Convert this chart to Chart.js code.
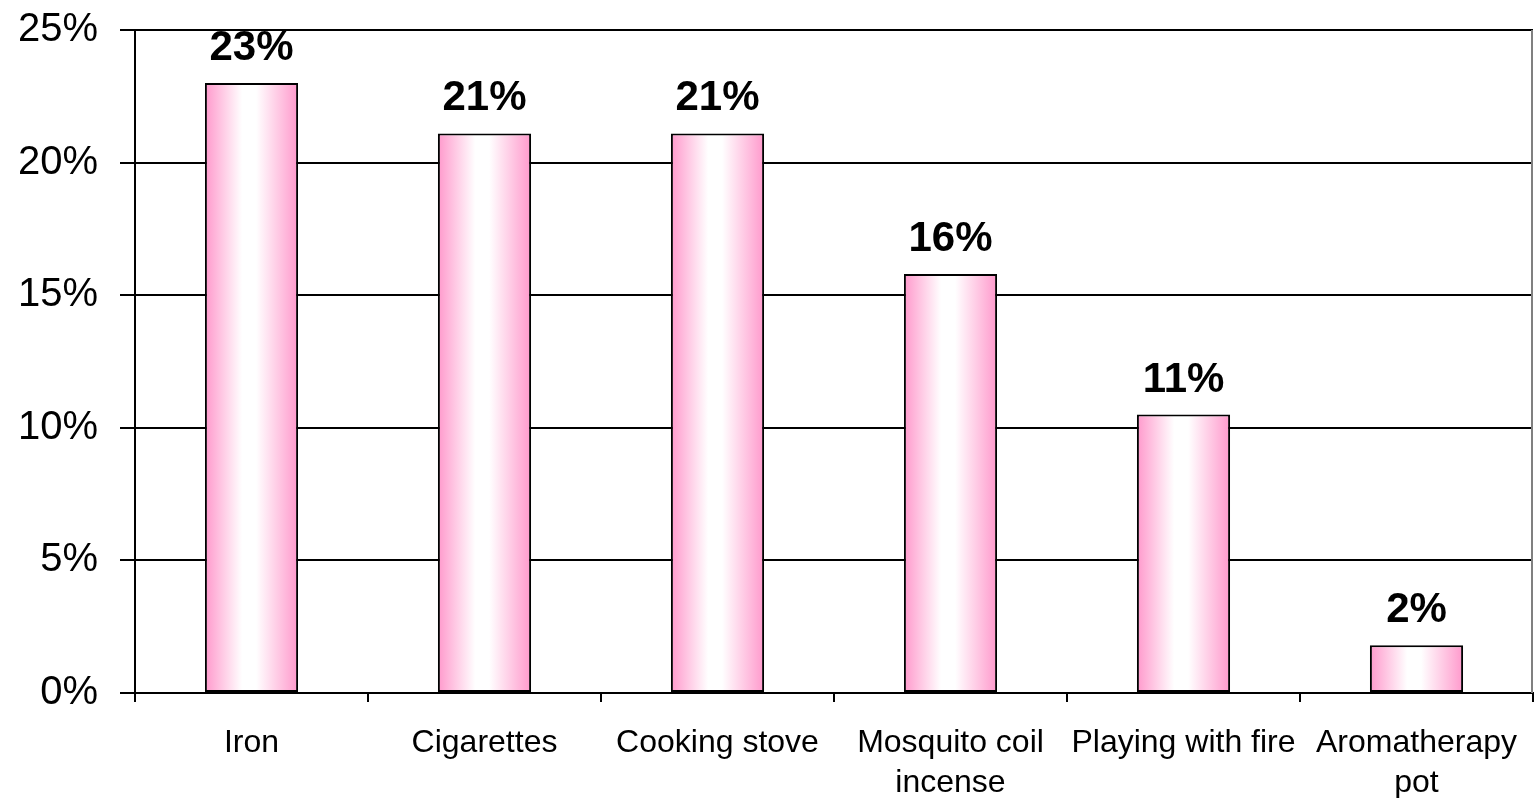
<!DOCTYPE html>
<html>
<head>
<meta charset="utf-8">
<title>Causes of fire</title>
<script src="https://cdn.jsdelivr.net/npm/chart.js@4.4.1/dist/chart.umd.min.js"></script>
<style>
    html, body { margin: 0; padding: 0; background: #fff; }
    canvas { display: block; }
</style>
</head>
<body>
<canvas id="fireChart" width="1534" height="798"></canvas>
<script>
// ===== Data =====
const categories = [
    'Iron',
    'Cigarettes',
    'Cooking stove',
    ['Mosquito coil', 'incense'],
    'Playing with fire',
    ['Aromatherapy', 'pot']
];
const shares = [23.0, 21.1, 21.1, 15.8, 10.5, 1.8];
const yTicks = [0, 5, 10, 15, 20, 25];

const FONT = "'Liberation Sans', Arial, sans-serif";
const PINK = '#ff99cc';

// ===== Bar gradient (pink edges, white middle) =====
function barGradient(context) {
    const chart = context.chart;
    const xScale = chart.scales.x;
    if (!xScale || !chart.chartArea) return PINK;
    const center = xScale.getPixelForValue(context.dataIndex);
    const half = (xScale.width / categories.length) * 0.4 / 2;
    const g = chart.ctx.createLinearGradient(center - half, 0, center + half, 0);
    g.addColorStop(0, PINK);
    g.addColorStop(0.4, '#ffffff');
    g.addColorStop(0.55, '#ffffff');
    g.addColorStop(1, PINK);
    return g;
}

// ===== Value labels above bars + right border =====
const valueLabels = {
    id: 'valueLabels',
    afterDatasetsDraw(chart) {
        const ctx = chart.ctx;
        const meta = chart.getDatasetMeta(0);
        ctx.save();
        ctx.font = 'bold 42px ' + FONT;
        ctx.fillStyle = '#000';
        ctx.textAlign = 'center';
        ctx.textBaseline = 'alphabetic';
        meta.data.forEach((bar, i) => {
            ctx.fillText(Math.round(shares[i]) + '%', bar.x, bar.y - 23);
        });
        ctx.restore();
    },
    beforeDatasetsDraw(chart) {
        const { ctx, chartArea } = chart;
        ctx.save();
        ctx.strokeStyle = '#808080';
        ctx.lineWidth = 2;
        ctx.beginPath();
        ctx.moveTo(chartArea.right - 1, chartArea.top);
        ctx.lineTo(chartArea.right - 1, chartArea.bottom);
        ctx.stroke();
        ctx.restore();
    }
};

// ===== Chart =====
const ctx = document.getElementById('fireChart').getContext('2d');
const fireChart = new Chart(ctx, {
    type: 'bar',
    data: {
        labels: categories,
        datasets: [{
            data: shares,
            backgroundColor: barGradient,
            borderColor: '#000',
            borderWidth: 2,
            borderSkipped: false,
            barPercentage: 0.4,
            categoryPercentage: 1
        }]
    },
    options: {
        responsive: false,
        animation: false,
        layout: {
            padding: { top: 30, right: 1, bottom: 0, left: 0 }
        },
        plugins: {
            legend: { display: false },
            tooltip: { enabled: false }
        },
        scales: {
            x: {
                grid: {
                    offset: true,
                    drawOnChartArea: false,
                    color: '#000',
                    lineWidth: 2,
                    tickLength: 9
                },
                border: { color: '#000', width: 2 },
                ticks: {
                    color: '#000',
                    font: { family: FONT, size: 32, lineHeight: 1.25 },
                    padding: 21,
                    maxRotation: 0,
                    autoSkip: false
                },
                afterFit(axis) {
                    axis.height = 105;
                    axis.paddingLeft = 0;
                    axis.paddingRight = 0;
                }
            },
            y: {
                min: 0,
                max: 25,
                afterBuildTicks(axis) {
                    axis.ticks = yTicks.map(v => ({ value: v }));
                },
                grid: {
                    color: '#000',
                    lineWidth: 2,
                    tickLength: 15
                },
                border: { color: '#000', width: 2 },
                ticks: {
                    color: '#000',
                    font: { family: FONT, size: 40 },
                    padding: 22,
                    callback: v => v + '%'
                },
                afterFit(axis) {
                    axis.width = 135;
                    axis.paddingTop = 0;
                    axis.paddingBottom = 0;
                }
            }
        }
    },
    plugins: [valueLabels]
});
</script>
</body>
</html>
